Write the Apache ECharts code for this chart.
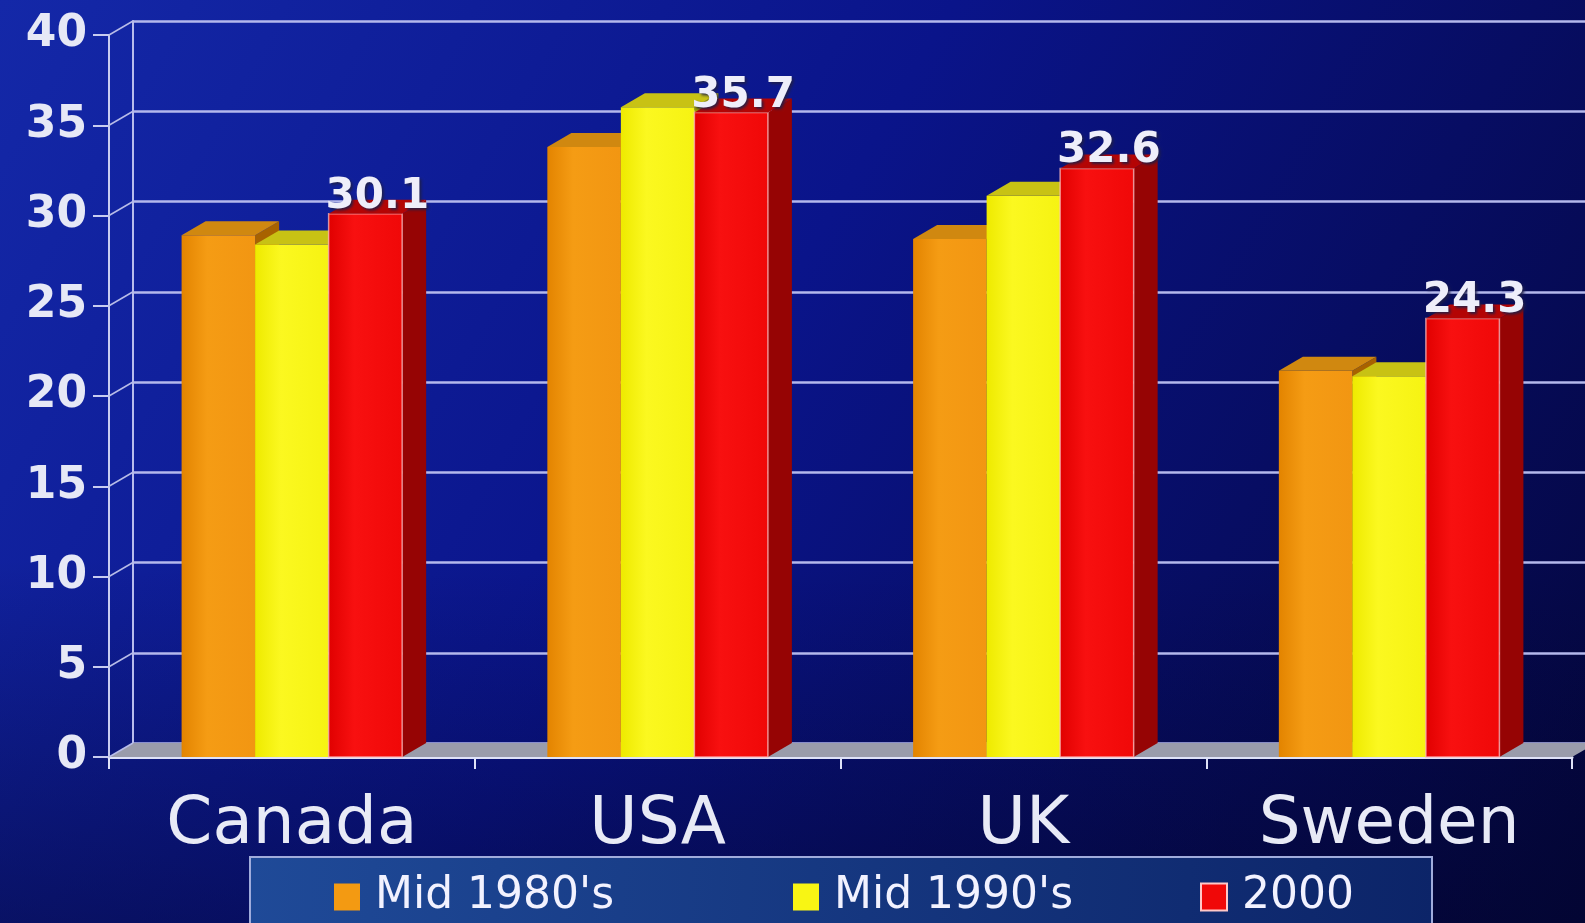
<!DOCTYPE html>
<html>
<head>
<meta charset="utf-8">
<script src="https://cdn.jsdelivr.net/npm/echarts@6/dist/echarts.min.js"></script>
<style>
html,body{margin:0;padding:0;background:#0a1580;}
#chart{width:1585px;height:923px;}
</style>
</head>
<body>
<div id="chart"></div>
<script>
// ---- data ----
const categories = ['Canada', 'USA', 'UK', 'Sweden'];
const seriesNames = ["Mid 1980's", "Mid 1990's", '2000'];
const mid1980s = [28.9, 33.8, 28.7, 21.4];
const mid1990s = [28.4, 36.0, 31.1, 21.1];
const y2000 = [30.1, 35.7, 32.6, 24.3];
const yTicks = [0, 5, 10, 15, 20, 25, 30, 35, 40];

// ---- styling ----
const DX = 24, DY = -14;
const FONT = 'DejaVu Sans';
const palette = [
  {front: ['#e38400', '#f59c14', '#f29612'], top: '#d08810', side: '#a86200', stroke: null},
  {front: ['#eeea00', '#fbf820', '#f6f312'], top: '#c8c214', side: '#a09a00', stroke: null},
  {front: ['#e00000', '#f81010', '#f00808'], top: '#b40404', side: '#960404', stroke: 'rgba(255,190,190,0.75)'}
];

function barRender(k, showLabel) {
  const c = palette[k];
  return function (params, api) {
    const ci = api.value(0), v = api.value(1);
    const base = api.coord([ci, 0]);
    const top = api.coord([ci, v]);
    const band = api.size([1, 0])[0];
    const bw = band * 0.201;
    const x0 = base[0] - 1.5 * bw + k * bw;
    const x1 = x0 + bw;
    const y0 = base[1], yt = top[1];
    const children = [
      {type: 'polygon', shape: {points: [[x1, yt], [x1 + DX, yt + DY], [x1 + DX, y0 + DY], [x1, y0]]},
       style: {fill: c.side}},
      {type: 'rect', shape: {x: x0, y: yt, width: bw, height: y0 - yt},
       style: {fill: new echarts.graphic.LinearGradient(0, 0, 1, 0, [
         {offset: 0, color: c.front[0]}, {offset: 0.35, color: c.front[1]}, {offset: 1, color: c.front[2]}]),
         stroke: c.stroke, lineWidth: c.stroke ? 1.5 : 0}},
      {type: 'polygon', shape: {points: [[x0, yt], [x1, yt], [x1 + DX, yt + DY], [x0 + DX, yt + DY]]},
       style: {fill: c.top}}
    ];
    if (showLabel) {
      children.push({type: 'text', x: x0 + bw / 2 + DX / 2, y: yt + 4,
        style: {text: String(v), fill: '#eeeefa', font: 'bold 42px "' + FONT + '"',
          textAlign: 'center', textVerticalAlign: 'bottom',
          textShadowColor: 'rgba(30,30,70,0.9)', textShadowBlur: 3, textShadowOffsetX: 2, textShadowOffsetY: 2}});
    }
    return {type: 'group', children: children};
  };
}

function decorRender(params, api) {
  const v = api.value(1);
  const cs = params.coordSys;
  const y = api.coord([0, v])[1];
  const children = [];
  if (v === 0) {
    const xl = cs.x, xr = cs.x + cs.width;
    children.push({type: 'polygon', shape: {points: [[xl, y], [xr, y], [xr + DX, y + DY], [xl + DX, y + DY]]},
      style: {fill: '#9a9cab'}});
  }
  children.push({type: 'line', shape: {x1: cs.x, y1: y, x2: cs.x + DX, y2: y + DY},
    style: {stroke: '#b8bce8', lineWidth: 1.5}});
  return {type: 'group', children: children};
}

const chart = echarts.init(document.getElementById('chart'));
const legendBase = {
  orient: 'horizontal', top: 875, icon: 'rect', itemWidth: 26, itemHeight: 27, padding: 0,
  textStyle: {color: '#f2f2ff', fontSize: 44, fontFamily: FONT, padding: [0, 0, 0, 10]},
  selectedMode: false
};
chart.setOption({
  animation: false,
  backgroundColor: new echarts.graphic.LinearGradient(0, 0, 1, 1, [
    {offset: 0, color: '#1428a8'}, {offset: 0.45, color: '#0a148a'}, {offset: 1, color: '#04063c'}]),
  graphic: [
    {type: 'rect', z: -10, shape: {x: 0, y: 560, width: 1585, height: 363},
     style: {fill: new echarts.graphic.LinearGradient(0, 0, 0, 1, [
       {offset: 0, color: 'rgba(2,4,40,0)'}, {offset: 1, color: 'rgba(2,4,40,0.45)'}])}},
    {type: 'rect', z: 1, shape: {x: 250, y: 857, width: 1182, height: 90},
     style: {fill: new echarts.graphic.LinearGradient(0, 0, 1, 1, [
       {offset: 0, color: '#1f4a98'}, {offset: 1, color: '#0c2468'}]),
       stroke: '#a0acdc', lineWidth: 2}}
  ],
  legend: [
    Object.assign({}, legendBase, {left: 334, data: [seriesNames[0]]}),
    Object.assign({}, legendBase, {left: 793, data: [seriesNames[1]]}),
    Object.assign({}, legendBase, {left: 1200, data: [seriesNames[2]]})
  ],
  grid: [
    {left: 109, right: 13, top: 35, bottom: 166},
    {left: 133, right: -20, top: 21, bottom: 180}
  ],
  xAxis: [
    {type: 'category', gridIndex: 0, data: categories,
     axisLine: {lineStyle: {color: '#dfe2f8', width: 3}},
     axisTick: {show: true, length: 12, lineStyle: {color: '#dfe2f8', width: 2}},
     axisLabel: {color: '#e8eaf6', fontSize: 66, fontFamily: FONT, margin: 36}},
    {type: 'category', gridIndex: 1, data: categories, show: false}
  ],
  yAxis: [
    {type: 'value', gridIndex: 0, min: 0, max: 40, interval: 5,
     axisLine: {show: true, lineStyle: {color: '#c8ccf0', width: 2}},
     axisTick: {show: true, length: 16, lineStyle: {color: '#c8ccf0', width: 2}},
     splitLine: {show: false},
     axisLabel: {color: '#e6e8f6', fontSize: 44, fontWeight: 'bold', fontFamily: FONT, margin: 22,
       formatter: function (v) { return yTicks.indexOf(v) >= 0 ? String(v) : ''; }}},
    {type: 'value', gridIndex: 1, min: 0, max: 40, interval: 5,
     axisLine: {show: true, lineStyle: {color: '#b8bcec', width: 2}},
     axisTick: {show: false}, axisLabel: {show: false},
     splitLine: {show: true, lineStyle: {color: '#b4b8ec', width: 2.5}}}
  ],
  series: [
    {name: 'decor', type: 'custom', xAxisIndex: 0, yAxisIndex: 0, silent: true,
     data: yTicks.map(function (v) { return [0, v]; }), encode: {x: 0, y: 1}, renderItem: decorRender},
    {name: seriesNames[0], type: 'custom', xAxisIndex: 0, yAxisIndex: 0, itemStyle: {color: '#f39a12'},
     data: mid1980s.map(function (v, i) { return [i, v]; }), encode: {x: 0, y: 1}, renderItem: barRender(0, false)},
    {name: seriesNames[1], type: 'custom', xAxisIndex: 0, yAxisIndex: 0, itemStyle: {color: '#f8f514'},
     data: mid1990s.map(function (v, i) { return [i, v]; }), encode: {x: 0, y: 1}, renderItem: barRender(1, false)},
    {name: seriesNames[2], type: 'custom', xAxisIndex: 0, yAxisIndex: 0,
     itemStyle: {color: '#f00808', borderColor: '#ffc8c8', borderWidth: 1.5},
     data: y2000.map(function (v, i) { return [i, v]; }), encode: {x: 0, y: 1}, renderItem: barRender(2, true)}
  ]
});
</script>
</body>
</html>
